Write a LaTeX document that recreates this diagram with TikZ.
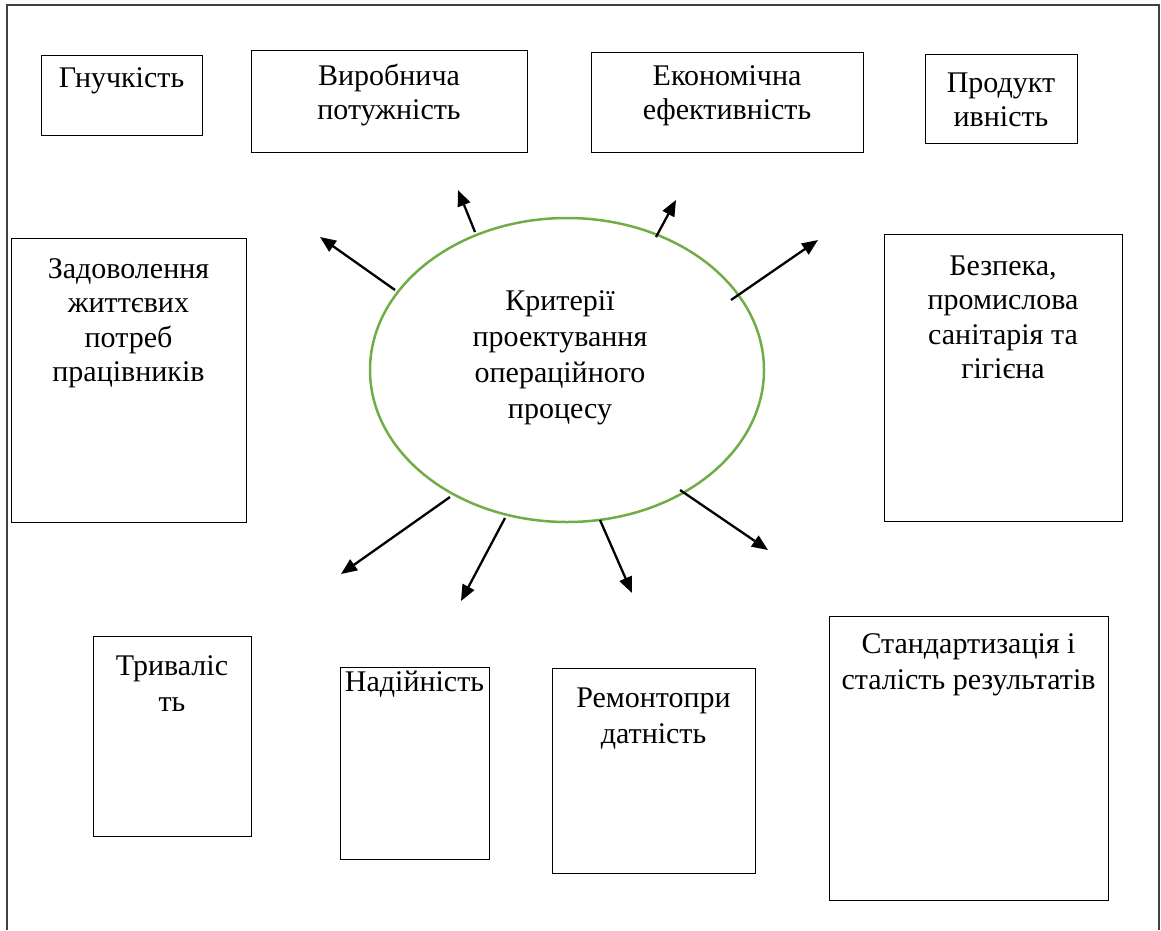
\documentclass[tikz,border=0pt]{standalone}
\usepackage{fontspec}
\setmainfont{Liberation Serif}
\usetikzlibrary{arrows.meta,shapes.geometric}
\newcommand\mystrut{\rule{0pt}{24pt}}
\begin{document}
\begin{tikzpicture}[x=1pt,y=-1pt,
  box/.style={draw=black, line width=1.3pt, rectangle, anchor=north west, inner sep=0pt},
  lbl/.style={align=center, anchor=north, font=\fontsize{30}{34.5}\selectfont, inner sep=0pt},
  blbl/.style={align=center, anchor=north, font=\fontsize{30}{36}\selectfont, inner sep=0pt},
  arr/.style={line width=2.3pt, -{Triangle[length=16pt,width=13pt]}}]
\useasboundingbox (0,0) rectangle (1161,930);
\draw[line width=1.5pt, draw=black!75] (7,930) -- (7,5) -- (1159,5) -- (1159,930);

% boxes
\node[box, minimum width=161pt, minimum height=80pt] (g) at (41,55) {};
\node[box, minimum width=276pt, minimum height=102pt] (v) at (251,50) {};
\node[box, minimum width=272pt, minimum height=100pt] (e) at (591,52) {};
\node[box, minimum width=152pt, minimum height=89pt] (p) at (925,54) {};
\node[box, minimum width=235pt, minimum height=284pt] (z) at (11,238) {};
\node[box, minimum width=238pt, minimum height=287pt] (b) at (884,234) {};
\node[box, minimum width=158pt, minimum height=200pt] (t) at (93,636) {};
\node[box, minimum width=149pt, minimum height=192pt] (n) at (340,667) {};
\node[box, minimum width=203pt, minimum height=205pt] (r) at (552,668) {};
\node[box, minimum width=279pt, minimum height=284pt] (s) at (829,616) {};

% labels
\node[lbl] (gl) at (121.5,63) {\mystrut Гнучкість};
\node[lbl] (vl) at (389,61) {\mystrut Виробнича\\потужність};
\node[lbl] (el) at (727,61) {\mystrut Економічна\\ефективність};
\node[lbl] (pl) at (1001,68) {\mystrut Продукт\\ивність};
\node[lbl] (zl) at (128.5,254) {\mystrut Задоволення\\життєвих\\потреб\\працівників};
\node[lbl] (bl) at (1003,251) {\mystrut Безпека,\\промислова\\санітарія та\\гігієна};
\node[blbl] (tl) at (172,651) {\mystrut Триваліс\\ть};
\node[blbl] (nl) at (414.5,667) {\mystrut Надійність};
\node[blbl] (rl) at (653.5,683) {\mystrut Ремонтопри\\датність};
\node[blbl] (sl) at (968.5,629) {\mystrut Стандартизація і\\сталість результатів};

% central ellipse
\node[ellipse, draw={rgb,255:red,112;green,173;blue,71}, line width=2.5pt,
  minimum width=394pt, minimum height=304pt, inner sep=0pt] (c) at (567,370) {};
\node[blbl] (cl) at (560,286) {\mystrut Критерії\\проектування\\операційного\\процесу};

% arrows
\coordinate (s1) at (395,290); \coordinate (t1) at (320,237);
\coordinate (s2) at (475,232); \coordinate (t2) at (458,190);
\coordinate (s3) at (656,237); \coordinate (t3) at (676,200);
\coordinate (s4) at (731,300); \coordinate (t4) at (818,240);
\coordinate (s5) at (450,497); \coordinate (t5) at (341,574);
\coordinate (s6) at (505,518); \coordinate (t6) at (461,601);
\coordinate (s7) at (600,520); \coordinate (t7) at (632,593);
\coordinate (s8) at (680,490); \coordinate (t8) at (768,550);
\foreach \i in {1,...,8} \draw[arr] (s\i) -- (t\i);
\end{tikzpicture}
\end{document}
